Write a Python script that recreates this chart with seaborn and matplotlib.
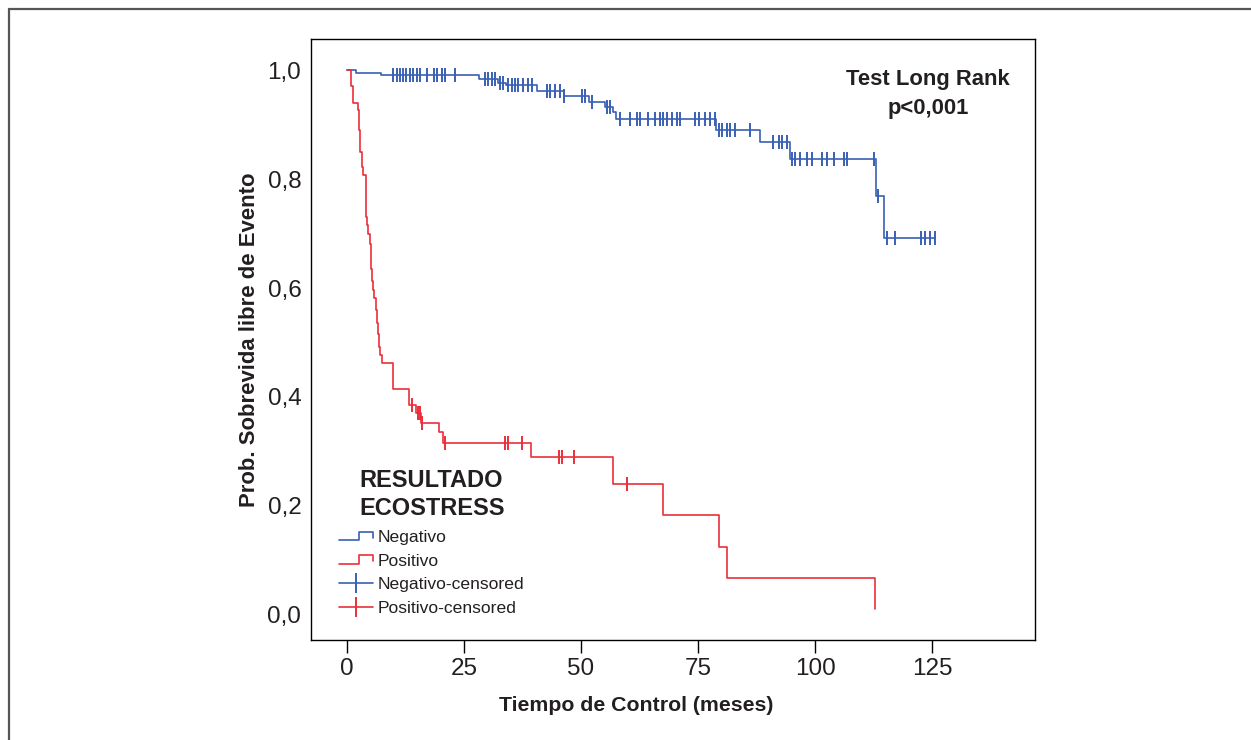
import numpy as np
import pandas as pd
import matplotlib
matplotlib.use("Agg")
import matplotlib.pyplot as plt
import seaborn as sns
from matplotlib import font_manager
from matplotlib.lines import Line2D
from matplotlib.legend_handler import HandlerBase

### data (months, survival probability)
neg_t = [0, 2.0, 7.2, 28.1, 32.3, 34.0, 40.5, 46.3, 51.6, 55.1, 56.8, 57.4,
         78.9, 88.3, 94.7, 113.0, 114.8]
neg_s = [1.0, 0.995, 0.991, 0.983, 0.977, 0.972, 0.962, 0.953, 0.942, 0.933, 0.923, 0.910,
         0.890, 0.868, 0.837, 0.769, 0.692]
neg_cens = [9.9, 10.6, 11.3, 12.0, 12.7, 13.5, 14.2, 14.9, 15.6, 17.1, 18.6, 19.3, 20.2, 20.9, 23.1,
            29.5, 30.2, 30.9, 31.6, 32.7, 33.4,
            34.5, 35.2, 35.9, 36.6, 37.7, 38.7, 39.5,
            42.7, 43.4, 44.5, 45.6, 46.4, 50.2, 50.9, 52.3, 55.6, 56.2,
            58.3, 60.5, 61.9, 62.6, 64.4, 65.8, 66.9, 67.6, 68.3, 69.4, 70.5, 71.2,
            74.4, 75.1, 76.5, 77.6, 78.7,
            79.4, 80.1, 81.1, 81.9, 83.0, 86.1,
            91.1, 92.2, 92.9, 94.0,
            95.1, 95.8, 96.8, 98.3, 99.3, 101.5, 102.5, 104.0, 106.1, 106.8, 112.6,
            113.4, 115.4, 117.0, 122.7, 123.4, 124.5, 125.6]

pos_t = [0, 0.8, 1.35, 2.4, 2.6, 2.8, 3.1, 3.5, 4.06, 4.3, 4.56, 4.8, 5.06, 5.2, 5.4, 5.6,
         5.85, 6.1, 6.35, 6.6, 6.9, 7.1, 7.4, 9.9, 13.3, 14.7, 15.7, 19.7, 20.6, 39.3,
         56.8, 67.6, 79.4, 81.1, 112.8]
pos_s = [1.0, 0.971, 0.940, 0.927, 0.89, 0.85, 0.823, 0.807, 0.731, 0.715, 0.700, 0.68, 0.655,
         0.635, 0.612, 0.597, 0.582, 0.56, 0.536, 0.515, 0.492, 0.477, 0.462, 0.415, 0.385,
         0.371, 0.353, 0.335, 0.316, 0.290, 0.241, 0.183, 0.125, 0.067, 0.01]
pos_cens = [13.8, 15.2, 15.5, 16.0, 20.9, 33.8, 34.5, 37.3, 45.2, 46.0, 48.4, 59.8]

x_ticks = [0, 25, 50, 75, 100, 125]
y_ticks = [0.0, 0.2, 0.4, 0.6, 0.8, 1.0]
y_ticklabels = ["0,0", "0,2", "0,4", "0,6", "0,8", "1,0"]

blue = "#3a60b4"
red = "#ea2f3a"
ink = "#231f20"

sns.set_style("white")
names = {f.name for f in font_manager.fontManager.ttflist}
if "Liberation Sans Narrow" in names:
    fam, k = "Liberation Sans Narrow", 1.0
else:
    fam, k = "Liberation Sans", 0.9   # wider face, so shrink a bit
plt.rcParams["font.family"] = [fam, "DejaVu Sans"]


def km_frame(t, s, cens):
    t = np.asarray(t)
    s = np.asarray(s)
    cens = np.asarray(cens)
    idx = np.searchsorted(t, cens, side="right") - 1
    cs = s[idx]
    if cens.max() > t.max():
        t = np.append(t, cens.max())
        s = np.append(s, s[-1])
    return pd.DataFrame({"t": t, "s": s}), pd.DataFrame({"t": cens, "s": cs})


neg_line, neg_c = km_frame(neg_t, neg_s, neg_cens)
pos_line, pos_c = km_frame(pos_t, pos_s, pos_cens)

fig = plt.figure(figsize=(12.51, 7.40), dpi=100)
ax = fig.add_axes([311 / 1251, 1 - 640 / 740, 724 / 1251, 601 / 740])

sns.lineplot(data=neg_line, x="t", y="s", drawstyle="steps-post", color=blue, lw=1.2, ax=ax)
sns.lineplot(data=pos_line, x="t", y="s", drawstyle="steps-post", color=red, lw=1.2, ax=ax)
sns.scatterplot(data=neg_c, x="t", y="s", marker="|", s=90, color=blue, linewidth=1.4, ax=ax)
sns.scatterplot(data=pos_c, x="t", y="s", marker="|", s=90, color=red, linewidth=1.4, ax=ax)

ax.set_xlim(-7.7, 147.0)
ax.set_ylim(-0.046, 1.057)
ax.set_xticks(x_ticks)
ax.set_yticks(y_ticks)
ax.set_yticklabels(y_ticklabels)
ax.tick_params(axis="x", direction="out", length=9.5, width=1.0, pad=3.5, labelsize=17.5,
               bottom=True, color="black", labelcolor=ink)
ax.tick_params(axis="y", length=0, pad=7, labelsize=17.5, labelcolor=ink)
for sp in ax.spines.values():
    sp.set_color("black")
    sp.set_linewidth(1.0)
    sp.set_visible(True)

ax.set_xlabel("Tiempo de Control (meses)", fontsize=17 * k, fontweight="bold", color=ink)
ax.xaxis.set_label_coords(0.449, -0.093)
ax.set_ylabel("Prob. Sobrevida libre de Evento", fontsize=17 * k * 1.04, fontweight="bold",
              labelpad=5, color=ink)

ax.text(124.1, 0.956, "Test Long Rank\np<0,001", ha="center", va="center",
        fontsize=18 * k * 0.98, fontweight="bold", color=ink, linespacing=1.5)


class HandlerStep(HandlerBase):
    def create_artists(self, legend, orig_handle, xdescent, ydescent, width, height, fontsize, trans):
        x0, y0 = -xdescent, -ydescent
        lo = y0 + 0.15 * height
        hi = y0 + 0.85 * height
        xs = [x0, x0 + 0.6 * width, x0 + 0.6 * width, x0 + width, x0 + width]
        ys = [lo, lo, hi, hi, y0 + 0.35 * height]
        ln = Line2D(xs, ys, color=orig_handle.get_color(), lw=1.2, transform=trans)
        return [ln]


h_neg = Line2D([], [], color=blue)
h_pos = Line2D([], [], color=red)
h_negc = Line2D([], [], color=blue, lw=1.2, marker="|", markersize=14, markeredgewidth=1.4)
h_posc = Line2D([], [], color=red, lw=1.2, marker="|", markersize=14, markeredgewidth=1.4)

leg = ax.legend([h_neg, h_pos, h_negc, h_posc],
                ["Negativo", "Positivo", "Negativo-censored", "Positivo-censored"],
                handler_map={h_neg: HandlerStep(), h_pos: HandlerStep()},
                loc="upper left", bbox_to_anchor=(28 / 724, 0.285), borderaxespad=0,
                borderpad=0, frameon=False, fontsize=14 * k, handlelength=1.95,
                handletextpad=0.28, labelspacing=0.48,
                title="RESULTADO\nECOSTRESS",
                title_fontproperties={"size": 17, "weight": "bold",
                                      "family": [fam, "DejaVu Sans"]})
leg.get_title().set_color(ink)
leg.get_title().set_linespacing(1.3)
leg._legend_box.sep = 7
for t in leg.get_texts():
    t.set_color(ink)

# outer frame of the figure panel
fig.add_artist(Line2D([9 / 1251, 9 / 1251], [0, 1 - 9 / 740], transform=fig.transFigure,
                      color="#555555", lw=1.6))
fig.add_artist(Line2D([9 / 1251, 1], [1 - 9 / 740, 1 - 9 / 740], transform=fig.transFigure,
                      color="#555555", lw=1.6))

fig.savefig("out.png", dpi=100)
